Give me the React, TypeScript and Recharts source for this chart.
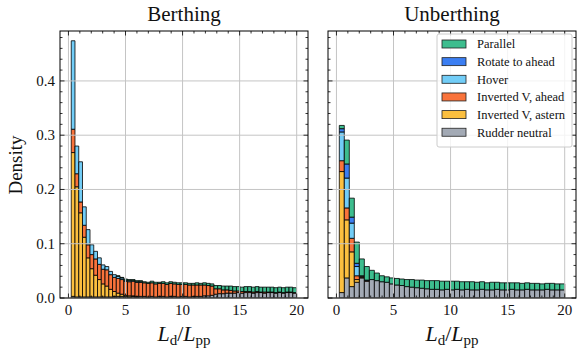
import React from "react";
import { BarChart, Bar, XAxis, YAxis } from "recharts";

const W = 584;
const H = 351;
const TOP = 31;
const BOTTOM = 298;
const SERIF = '"Liberation Serif", "DejaVu Serif", "Times New Roman", serif';

const X_DOMAIN: [number, number] = [-0.74, 20.99];
const Y_DOMAIN: [number, number] = [0, 0.492];
const X_MAJOR = [0, 5, 10, 15, 20];
const X_MINOR = [1, 2, 3, 4, 6, 7, 8, 9, 11, 12, 13, 14, 16, 17, 18, 19];
const Y_MAJOR = [0, 0.1, 0.2, 0.3, 0.4];
const Y_MINOR = [0.02, 0.04, 0.06, 0.08, 0.12, 0.14, 0.16, 0.18, 0.22, 0.24, 0.26, 0.28,
  0.32, 0.34, 0.36, 0.38, 0.42, 0.44, 0.46, 0.48];

// ---- Berthing: 60 bins of width 0.329 ----
const berthingBinWidth = 0.329;
const berthingBins = [
  0.410, 0.739, 1.068, 1.397, 1.726, 2.055, 2.384, 2.713, 3.042, 3.371,
  3.700, 4.029, 4.358, 4.687, 5.016, 5.345, 5.674, 6.003, 6.332, 6.661,
  6.990, 7.319, 7.648, 7.977, 8.306, 8.635, 8.964, 9.293, 9.622, 9.951,
  10.280, 10.609, 10.938, 11.267, 11.596, 11.925, 12.254, 12.583, 12.912, 13.241,
  13.570, 13.899, 14.228, 14.557, 14.886, 15.215, 15.544, 15.873, 16.202, 16.531,
  16.860, 17.189, 17.518, 17.847, 18.176, 18.505, 18.834, 19.163, 19.492, 19.821,
];
const berthingNeutral = [
  0.003, 0.002, 0.002, 0.002, 0.002, 0.002, 0.002, 0.002, 0.002, 0.002,
  0.002, 0.003, 0.003, 0.003, 0.003, 0.002, 0.003, 0.002, 0.003, 0.003,
  0.002, 0.003, 0.002, 0.003, 0.003, 0.002, 0.003, 0.003, 0.002, 0.003,
  0.003, 0.002, 0.003, 0.003, 0.003, 0.004, 0.004, 0.005, 0.007, 0.008,
  0.008, 0.009, 0.009, 0.009, 0.010, 0.009, 0.010, 0.010, 0.009, 0.010,
  0.010, 0.009, 0.010, 0.010, 0.009, 0.010, 0.009, 0.010, 0.010, 0.009,
];
const berthingAstern = [
  0.265, 0.203, 0.155, 0.110, 0.072, 0.052, 0.040, 0.032, 0.024, 0.020,
  0.014, 0.009, 0.006, 0.004, 0.002, 0.002, 0.001, 0.001, 0, 0,
  0, 0, 0, 0, 0, 0, 0, 0, 0, 0,
  0, 0, 0, 0, 0, 0, 0, 0, 0, 0,
  0, 0, 0, 0, 0, 0, 0, 0, 0, 0,
  0, 0, 0, 0, 0, 0, 0, 0, 0, 0,
];
const berthingAhead = [
  0.043, 0.024, 0.020, 0.022, 0.024, 0.026, 0.030, 0.028, 0.027, 0.030,
  0.027, 0.026, 0.027, 0.027, 0.026, 0.026, 0.027, 0.026, 0.026, 0.025,
  0.025, 0.025, 0.024, 0.024, 0.024, 0.023, 0.024, 0.023, 0.023, 0.022,
  0.022, 0.022, 0.021, 0.021, 0.021, 0.020, 0.019, 0.017, 0.010, 0.009,
  0.007, 0.006, 0.005, 0.004, 0.003, 0.003, 0.002, 0.002, 0.002, 0.002,
  0.001, 0.002, 0.001, 0.001, 0.001, 0.001, 0.001, 0.001, 0.001, 0.001,
];
const berthingHover = [
  0.163, 0.051, 0.074, 0.034, 0.028, 0.018, 0.014, 0.012, 0.008, 0.006,
  0.006, 0.005, 0.004, 0.003, 0.002, 0.002, 0.001, 0.001, 0.001, 0,
  0, 0, 0, 0, 0, 0, 0, 0, 0, 0,
  0, 0, 0, 0, 0, 0, 0, 0, 0, 0,
  0, 0, 0, 0, 0, 0, 0, 0, 0, 0,
  0, 0, 0, 0, 0, 0, 0, 0, 0, 0,
];
const berthingRotate = [
  0, 0, 0, 0, 0, 0, 0, 0, 0, 0,
  0, 0, 0, 0, 0, 0, 0, 0, 0, 0,
  0, 0, 0, 0, 0, 0, 0, 0, 0, 0,
  0, 0, 0, 0, 0, 0, 0, 0, 0, 0,
  0, 0, 0, 0, 0, 0, 0, 0, 0, 0,
  0, 0, 0, 0, 0, 0, 0, 0, 0, 0,
];
const berthingParallel = [
  0, 0, 0, 0, 0, 0, 0, 0, 0, 0,
  0, 0, 0.001, 0.001, 0.002, 0.002, 0.002, 0.002, 0.002, 0.002,
  0.002, 0.003, 0.003, 0.002, 0.003, 0.003, 0.003, 0.003, 0.003, 0.003,
  0.003, 0.003, 0.003, 0.004, 0.003, 0.004, 0.004, 0.004, 0.006, 0.006,
  0.007, 0.007, 0.008, 0.008, 0.008, 0.008, 0.009, 0.009, 0.009, 0.009,
  0.009, 0.009, 0.009, 0.009, 0.009, 0.009, 0.009, 0.009, 0.009, 0.009,
];

// ---- Unberthing: 45 bins of width 0.439 ----
const unberthingBinWidth = 0.439;
const unberthingBins = [
  0.470, 0.909, 1.348, 1.787, 2.226, 2.665, 3.104, 3.543, 3.982, 4.421,
  4.860, 5.299, 5.738, 6.177, 6.616, 7.055, 7.494, 7.933, 8.372, 8.811,
  9.250, 9.689, 10.128, 10.567, 11.006, 11.445, 11.884, 12.323, 12.762, 13.201,
  13.640, 14.079, 14.518, 14.957, 15.396, 15.835, 16.274, 16.713, 17.152, 17.591,
  18.030, 18.469, 18.908, 19.347, 19.786,
];
const unberthingNeutral = [
  0.010, 0.037, 0.021, 0.029, 0.037, 0.031, 0.034, 0.032, 0.030, 0.029,
  0.026, 0.024, 0.023, 0.021, 0.020, 0.019, 0.018, 0.017, 0.016, 0.016,
  0.015, 0.016, 0.015, 0.016, 0.015, 0.016, 0.015, 0.015, 0.016, 0.015,
  0.015, 0.016, 0.015, 0.015, 0.016, 0.015, 0.015, 0.016, 0.015, 0.015,
  0.015, 0.016, 0.015, 0.015, 0.015,
];
const unberthingAstern = [
  0.223, 0.107, 0.064, 0.005, 0.001, 0, 0, 0, 0, 0,
  0, 0, 0, 0, 0, 0, 0, 0, 0, 0,
  0, 0, 0, 0, 0, 0, 0, 0, 0, 0,
  0, 0, 0, 0, 0, 0, 0, 0, 0, 0,
  0, 0, 0, 0, 0,
];
const unberthingAhead = [
  0.020, 0.022, 0.025, 0.007, 0.002, 0.001, 0, 0, 0, 0,
  0, 0, 0, 0, 0, 0, 0, 0, 0, 0,
  0, 0, 0, 0, 0, 0, 0, 0, 0, 0,
  0, 0, 0, 0, 0, 0, 0, 0, 0, 0,
  0, 0, 0, 0, 0,
];
const unberthingHover = [
  0.053, 0.055, 0.028, 0.017, 0.001, 0.001, 0, 0, 0, 0,
  0, 0, 0, 0, 0, 0, 0, 0, 0, 0,
  0, 0, 0, 0, 0, 0, 0, 0, 0, 0,
  0, 0, 0, 0, 0, 0, 0, 0, 0, 0,
  0, 0, 0, 0, 0,
];
const unberthingRotate = [
  0.006, 0.026, 0.011, 0.006, 0, 0, 0, 0, 0, 0,
  0, 0, 0, 0, 0, 0, 0, 0, 0, 0,
  0, 0, 0, 0, 0, 0, 0, 0, 0, 0,
  0, 0, 0, 0, 0, 0, 0, 0, 0, 0,
  0, 0, 0, 0, 0,
];
const unberthingParallel = [
  0.006, 0.044, 0.035, 0.039, 0.031, 0.025, 0.017, 0.014, 0.011, 0.010,
  0.011, 0.012, 0.012, 0.013, 0.014, 0.014, 0.015, 0.015, 0.016, 0.016,
  0.016, 0.015, 0.016, 0.015, 0.015, 0.014, 0.015, 0.014, 0.014, 0.013,
  0.014, 0.013, 0.013, 0.013, 0.012, 0.013, 0.012, 0.012, 0.012, 0.012,
  0.011, 0.011, 0.012, 0.011, 0.011,
];

// stacking order, bottom first
const series = [
  { key: "neutral", name: "Rudder neutral", color: "#a3aab5" },
  { key: "astern", name: "Inverted V, astern", color: "#fbbf3f" },
  { key: "ahead", name: "Inverted V, ahead", color: "#f9733b" },
  { key: "hover", name: "Hover", color: "#72cdf7" },
  { key: "rotate", name: "Rotate to ahead", color: "#3b7ef2" },
  { key: "parallel", name: "Parallel", color: "#3dbd8e" },
];

const berthingRows = berthingBins.map((x, i) => ({
  x,
  neutral: berthingNeutral[i],
  astern: berthingAstern[i],
  ahead: berthingAhead[i],
  hover: berthingHover[i],
  rotate: berthingRotate[i],
  parallel: berthingParallel[i],
}));

const unberthingRows = unberthingBins.map((x, i) => ({
  x,
  neutral: unberthingNeutral[i],
  astern: unberthingAstern[i],
  ahead: unberthingAhead[i],
  hover: unberthingHover[i],
  rotate: unberthingRotate[i],
  parallel: unberthingParallel[i],
}));

const MAJOR = 4.5;
const MINOR = 2.5;
const TICK_W = 0.8;
const GRID = "#c4c4c4";

// inward ticks on bottom and top spines, grid line at major ticks
const xTick = (len: number, major: boolean) => (props: any) => {
  const { x, payload } = props;
  return (
    <g>
      {major && <line x1={x} x2={x} y1={TOP} y2={BOTTOM} stroke={GRID} strokeWidth={1} />}
      <line x1={x} x2={x} y1={BOTTOM} y2={BOTTOM - len} stroke="#000" strokeWidth={TICK_W} />
      <line x1={x} x2={x} y1={TOP} y2={TOP + len} stroke="#000" strokeWidth={TICK_W} />
      {major && (
        <text x={x} y={315} textAnchor="middle" fontSize={15} fontFamily={SERIF} fill="#111">
          {payload.value}
        </text>
      )}
    </g>
  );
};

// inward ticks on left and right spines
const yTick = (left: number, right: number, len: number, major: boolean, label: boolean) => (props: any) => {
  const { y, payload } = props;
  return (
    <g>
      {major && <line x1={left} x2={right} y1={y} y2={y} stroke={GRID} strokeWidth={1} />}
      <line x1={left} x2={left + len} y1={y} y2={y} stroke="#000" strokeWidth={TICK_W} />
      <line x1={right} x2={right - len} y1={y} y2={y} stroke="#000" strokeWidth={TICK_W} />
      {label && (
        <text x={left - 5} y={y + 5} textAnchor="end" fontSize={15} fontFamily={SERIF} fill="#111">
          {Number(payload.value).toFixed(1)}
        </text>
      )}
    </g>
  );
};

type PanelProps = {
  rows: Record<string, number>[];
  binWidth: number;
  left: number;
  right: number;
  yLabels: boolean;
};

const Panel: React.FC<PanelProps> = ({ rows, binWidth, left, right, yLabels }) => {
  const pxPerUnit = (right - left) / (X_DOMAIN[1] - X_DOMAIN[0]);
  const barSize = binWidth * pxPerUnit * 0.995;
  // the two x axes and two y axes are 1px each
  return (
    <div style={{ position: "absolute", left: 0, top: 0 }}>
      <BarChart
        width={W}
        height={H}
        data={rows}
        margin={{ top: TOP, bottom: H - BOTTOM - 2, left: left - 2, right: W - right }}
        barCategoryGap={0}
        barGap={0}
      >
        {series.map((s) => (
          <Bar
            key={s.key}
            dataKey={s.key}
            name={s.name}
            stackId="stack"
            fill={s.color}
            stroke="#000"
            strokeWidth={0.8}
            barSize={barSize}
            isAnimationActive={false}
          />
        ))}
        <XAxis dataKey="x" type="number" domain={X_DOMAIN} ticks={X_MAJOR} interval={0}
          height={1} axisLine={false} tickLine={false} tick={xTick(MAJOR, true)} allowDataOverflow />
        <XAxis xAxisId="minor" dataKey="x" type="number" domain={X_DOMAIN} ticks={X_MINOR} interval={0}
          height={1} axisLine={false} tickLine={false} tick={xTick(MINOR, false)} allowDataOverflow />
        <YAxis type="number" domain={Y_DOMAIN} ticks={Y_MAJOR} interval={0}
          width={1} axisLine={false} tickLine={false} tick={yTick(left, right, MAJOR, true, yLabels)} allowDataOverflow />
        <YAxis yAxisId="minor" type="number" domain={Y_DOMAIN} ticks={Y_MINOR} interval={0}
          width={1} axisLine={false} tickLine={false} tick={yTick(left, right, MINOR, false, false)} allowDataOverflow />
      </BarChart>
    </div>
  );
};

const XLabel: React.FC<{ cx: number }> = ({ cx }) => (
  <text x={cx} y={341} textAnchor="middle" fontSize={22} fontFamily={SERIF} fill="#111">
    <tspan fontStyle="italic">L</tspan>
    <tspan fontSize={15} dy={4}>d</tspan>
    <tspan dy={-4}>/</tspan>
    <tspan fontStyle="italic">L</tspan>
    <tspan fontSize={15} dy={4}>pp</tspan>
  </text>
);

const legendItems = [...series].reverse();

export default function App() {
  const panels = [
    { left: 60, right: 308, title: "Berthing" },
    { left: 328, right: 576, title: "Unberthing" },
  ];
  return (
    <div style={{ position: "absolute", left: 0, top: 0, width: W, height: H, background: "#fff" }}>
      <Panel rows={berthingRows} binWidth={berthingBinWidth} left={60} right={308} yLabels />
      <Panel rows={unberthingRows} binWidth={unberthingBinWidth} left={328} right={576} yLabels={false} />
      <svg width={W} height={H} style={{ position: "absolute", left: 0, top: 0, pointerEvents: "none" }}>
        {panels.map((p) => (
          <g key={p.title}>
            <rect x={p.left} y={TOP} width={p.right - p.left} height={BOTTOM - TOP}
              fill="none" stroke="#000" strokeWidth={1} />
            <text x={(p.left + p.right) / 2} y={21} textAnchor="middle" fontSize={21}
              fontFamily={SERIF} fill="#111">{p.title}</text>
            <XLabel cx={(p.left + p.right) / 2} />
          </g>
        ))}
        <text transform="translate(22,165) rotate(-90)" textAnchor="middle" fontSize={19}
          fontFamily={SERIF} fill="#111">Density</text>
        <rect x={437} y={34} width={135} height={113} rx={2} fill="rgba(255,255,255,0.8)"
          stroke="#cccccc" strokeWidth={1} />
        {legendItems.map((s, i) => {
          const cy = 44 + i * 17.65;
          return (
            <g key={s.key}>
              <rect x={442} y={cy - 4} width={24} height={8} fill={s.color} stroke="#222" strokeWidth={0.8} />
              <text x={477} y={cy + 4.3} fontSize={12.5} fontFamily={SERIF} fill="#111">{s.name}</text>
            </g>
          );
        })}
      </svg>
    </div>
  );
}
